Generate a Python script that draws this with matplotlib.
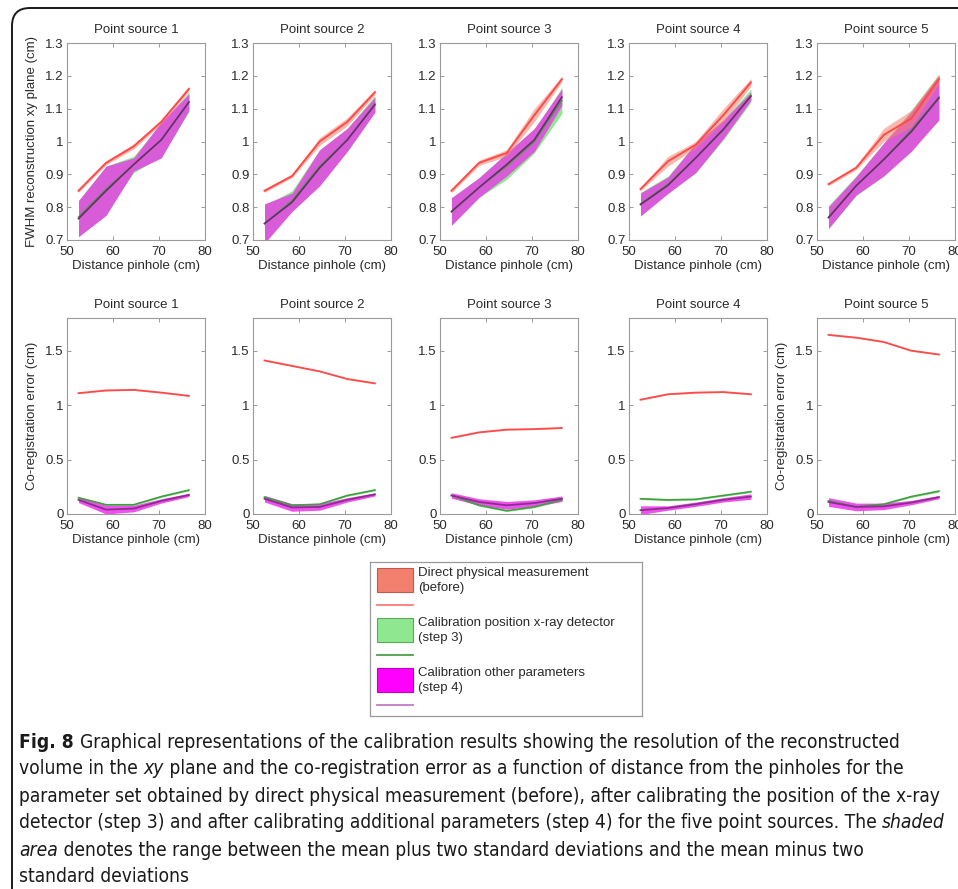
import matplotlib
matplotlib.use("Agg")
import matplotlib.pyplot as plt
from matplotlib.patches import FancyBboxPatch, Rectangle
from matplotlib.lines import Line2D
import numpy as np

plt.rcParams["font.family"] = ["Liberation Sans", "DejaVu Sans"]

# distance from pinholes (cm)
dist = [52.5, 58.5, 64.5, 70.5, 76.5]
titles = ["Point source 1", "Point source 2", "Point source 3", "Point source 4", "Point source 5"]

# FWHM reconstruction xy plane (cm): mean and 2*sd per point source
fwhm_before = [[0.85, 0.935, 0.985, 1.06, 1.16],
               [0.85, 0.895, 1.0, 1.06, 1.15],
               [0.85, 0.935, 0.965, 1.08, 1.19],
               [0.855, 0.94, 0.99, 1.08, 1.18],
               [0.87, 0.92, 1.02, 1.07, 1.19]]
fwhm_before_2sd = [[0.005, 0.006, 0.008, 0.006, 0.008],
                   [0.005, 0.005, 0.012, 0.012, 0.008],
                   [0.006, 0.008, 0.01, 0.02, 0.008],
                   [0.005, 0.015, 0.01, 0.02, 0.012],
                   [0.004, 0.006, 0.02, 0.025, 0.015]]
fwhm_step3 = [[0.77, 0.855, 0.93, 1.005, 1.12],
              [0.75, 0.82, 0.925, 1.005, 1.115],
              [0.785, 0.86, 0.925, 1.0, 1.125],
              [0.81, 0.87, 0.95, 1.035, 1.14],
              [0.77, 0.865, 0.945, 1.035, 1.135]]
fwhm_step3_2sd = [[0.05, 0.07, 0.025, 0.05, 0.03],
                  [0.055, 0.03, 0.05, 0.035, 0.025],
                  [0.04, 0.03, 0.04, 0.035, 0.04],
                  [0.035, 0.025, 0.045, 0.03, 0.02],
                  [0.035, 0.03, 0.05, 0.06, 0.07]]
fwhm_step4 = [[0.765, 0.85, 0.93, 1.005, 1.12],
              [0.75, 0.815, 0.92, 1.005, 1.112],
              [0.787, 0.86, 0.93, 1.005, 1.135],
              [0.808, 0.867, 0.95, 1.037, 1.138],
              [0.768, 0.865, 0.945, 1.03, 1.133]]
fwhm_step4_2sd = [[0.055, 0.075, 0.02, 0.055, 0.025],
                  [0.06, 0.028, 0.055, 0.035, 0.023],
                  [0.042, 0.03, 0.035, 0.035, 0.025],
                  [0.035, 0.025, 0.045, 0.028, 0.012],
                  [0.033, 0.028, 0.05, 0.06, 0.067]]

# co-registration error (cm)
coreg_before = [[1.11, 1.135, 1.14, 1.115, 1.085],
                [1.41, 1.36, 1.31, 1.24, 1.20],
                [0.70, 0.75, 0.775, 0.78, 0.79],
                [1.05, 1.10, 1.115, 1.12, 1.10],
                [1.645, 1.62, 1.58, 1.50, 1.465]]
coreg_before_2sd = [[0.005] * 5] * 5
coreg_step3 = [[0.15, 0.085, 0.085, 0.16, 0.22],
               [0.155, 0.08, 0.09, 0.17, 0.22],
               [0.17, 0.08, 0.03, 0.065, 0.13],
               [0.14, 0.13, 0.135, 0.17, 0.205],
               [0.12, 0.065, 0.09, 0.16, 0.21]]
coreg_step3_2sd = [[0.008] * 5] * 5
coreg_step4 = [[0.13, 0.04, 0.05, 0.12, 0.175],
               [0.14, 0.06, 0.065, 0.13, 0.18],
               [0.17, 0.11, 0.08, 0.10, 0.14],
               [0.035, 0.055, 0.09, 0.13, 0.16],
               [0.11, 0.065, 0.07, 0.105, 0.155]]
coreg_step4_2sd = [[0.025, 0.04, 0.03, 0.02, 0.015],
                   [0.03, 0.035, 0.03, 0.02, 0.015],
                   [0.025, 0.03, 0.035, 0.03, 0.025],
                   [0.04, 0.02, 0.02, 0.02, 0.025],
                   [0.04, 0.035, 0.03, 0.02, 0.015]]

legend_labels = ["Direct physical measurement\n(before)",
                 "Calibration position x-ray detector\n(step 3)",
                 "Calibration other parameters\n(step 4)"]

# caption: (text, style) segments per line
caption_lines = [
    [("Fig. 8 ", "bold"), ("Graphical representations of the calibration results showing the resolution of the reconstructed", "normal")],
    [("volume in the ", "normal"), ("xy", "italic"), (" plane and the co-registration error as a function of distance from the pinholes for the", "normal")],
    [("parameter set obtained by direct physical measurement (before), after calibrating the position of the x-ray", "normal")],
    [("detector (step 3) and after calibrating additional parameters (step 4) for the five point sources. The ", "normal"), ("shaded", "italic")],
    [("area", "italic"), (" denotes the range between the mean plus two standard deviations and the mean minus two", "normal")],
    [("standard deviations", "normal")],
]

red_fill, red_line = "#f3806e", "#ff4a4a"
green_fill, green_line = "#8fe88f", "#3f9f3f"
mag_fill, mag_line = "#d85cd8", "#6e2a6e"
mag_fill_b, mag_line_b = "#f050f0", "#8a2f8a"
txt = "#2a2a2a"
fs = 9.5

W, H = 958, 889
fig = plt.figure(figsize=(W / 100, H / 100), dpi=100)


def px_axes(left, top, width, height):
    return fig.add_axes([left / W, 1 - (top + height) / H, width / W, height / H])


# page frame
bg = fig.add_axes([0, 0, 1, 1])
bg.set_xlim(0, W)
bg.set_ylim(H, 0)
bg.axis("off")
bg.add_patch(FancyBboxPatch((12, 8), W + 40, H + 40, boxstyle="round,pad=0,rounding_size=18",
                            fill=False, lw=1.4, ec="#1a1a1a"))

lefts = [67, 253, 440, 629, 817]


def band(ax, mean, sd2, fc, alpha=1.0):
    m = np.array(mean)
    s = np.array(sd2)
    ax.fill_between(dist, m - s, m + s, color=fc, alpha=alpha, lw=0)


def style(ax, ylim, yticks, yticklabels):
    ax.set_xlim(50, 80)
    ax.set_ylim(*ylim)
    ax.set_xticks([50, 60, 70, 80])
    ax.set_yticks(yticks)
    ax.set_yticklabels(yticklabels)
    ax.tick_params(direction="in", top=True, right=True, length=3, width=0.6,
                   color="#888888", labelsize=fs, labelcolor=txt, pad=2.5)
    ax.tick_params(axis="x", pad=4.5)
    for sp in ax.spines.values():
        sp.set_color("#9a9a9a")
        sp.set_linewidth(0.8)
    ax.set_xlabel("Distance pinhole (cm)", fontsize=fs, color=txt, labelpad=1.5)


for i in range(5):
    ax = px_axes(lefts[i], 43, 138, 197)
    band(ax, fwhm_step3[i], fwhm_step3_2sd[i], green_fill)
    band(ax, fwhm_step4[i], fwhm_step4_2sd[i], mag_fill)
    band(ax, fwhm_before[i], fwhm_before_2sd[i], red_fill, alpha=0.55)
    ax.plot(dist, fwhm_step3[i], color=green_line, lw=1.0)
    ax.plot(dist, fwhm_before[i], color=red_line, lw=1.4)
    ax.plot(dist, fwhm_step4[i], color=mag_line, lw=1.2)
    style(ax, (0.7, 1.3), [0.7, 0.8, 0.9, 1.0, 1.1, 1.2, 1.3],
          ["0.7", "0.8", "0.9", "1", "1.1", "1.2", "1.3"])
    ax.set_title(titles[i], fontsize=fs, color=txt, pad=7)
    if i == 0:
        ax.set_ylabel("FWHM reconstruction xy plane (cm)", fontsize=fs, color=txt, labelpad=5)

    ax = px_axes(lefts[i], 318, 138, 196)
    band(ax, coreg_step3[i], coreg_step3_2sd[i], green_fill)
    band(ax, coreg_step4[i], coreg_step4_2sd[i], mag_fill_b)
    band(ax, coreg_before[i], coreg_before_2sd[i], red_fill, alpha=0.55)
    ax.plot(dist, coreg_step3[i], color=green_line, lw=1.2)
    ax.plot(dist, coreg_before[i], color=red_line, lw=1.3)
    ax.plot(dist, coreg_step4[i], color=mag_line_b, lw=1.3)
    style(ax, (0, 1.8), [0, 0.5, 1.0, 1.5], ["0", "0.5", "1", "1.5"])
    ax.set_title(titles[i], fontsize=fs, color=txt, pad=7)
    if i in (0, 4):
        ax.set_ylabel("Co-registration error (cm)", fontsize=fs, color=txt, labelpad=5)

# legend box
lg = px_axes(370, 562, 272, 154)
lg.set_xlim(0, 272)
lg.set_ylim(154, 0)
lg.set_xticks([])
lg.set_yticks([])
for sp in lg.spines.values():
    sp.set_color("#9a9a9a")
    sp.set_linewidth(0.9)
fills = [red_fill, green_fill, "#ff00ff"]
edges = ["#c05a4c", "#5aa85a", "#c000c0"]
lines = ["#ff7a7a", "#4aa04a", "#c47ac4"]
for k in range(3):
    y0 = 6 + k * 50
    lg.add_patch(Rectangle((7, y0), 36, 24, fc=fills[k], ec=edges[k], lw=0.8))
    lg.add_line(Line2D([7, 43], [y0 + 37, y0 + 37], color=lines[k], lw=1.3))
    lg.text(48, y0 - 1, legend_labels[k], fontsize=fs, color=txt, va="top",
            linespacing=1.3)

# caption: pick the font size so the widest line fills the text block
cap_font = dict(family="DejaVu Sans", stretch="condensed", color="#1a1a1a", va="center")
renderer = fig.canvas.get_renderer()


def seg_kw(st):
    return dict(fontweight="bold" if st == "bold" else "normal",
                fontstyle="italic" if st == "italic" else "normal")


widest = 0
for segs in caption_lines:
    wsum = 0
    for s, st in segs:
        probe = fig.text(0, 0, s, fontsize=13, **seg_kw(st), **cap_font)
        wsum += probe.get_window_extent(renderer).width
        probe.remove()
    widest = max(widest, wsum)
cap_fs = 13 * 928 / widest

for j, segs in enumerate(caption_lines):
    x = 19
    y = 1 - (742 + 27 * j) / H
    for s, st in segs:
        t = fig.text(x / W, y, s, fontsize=cap_fs, **seg_kw(st), **cap_font)
        x += t.get_window_extent(renderer).width

fig.savefig("out.png", dpi=100)
